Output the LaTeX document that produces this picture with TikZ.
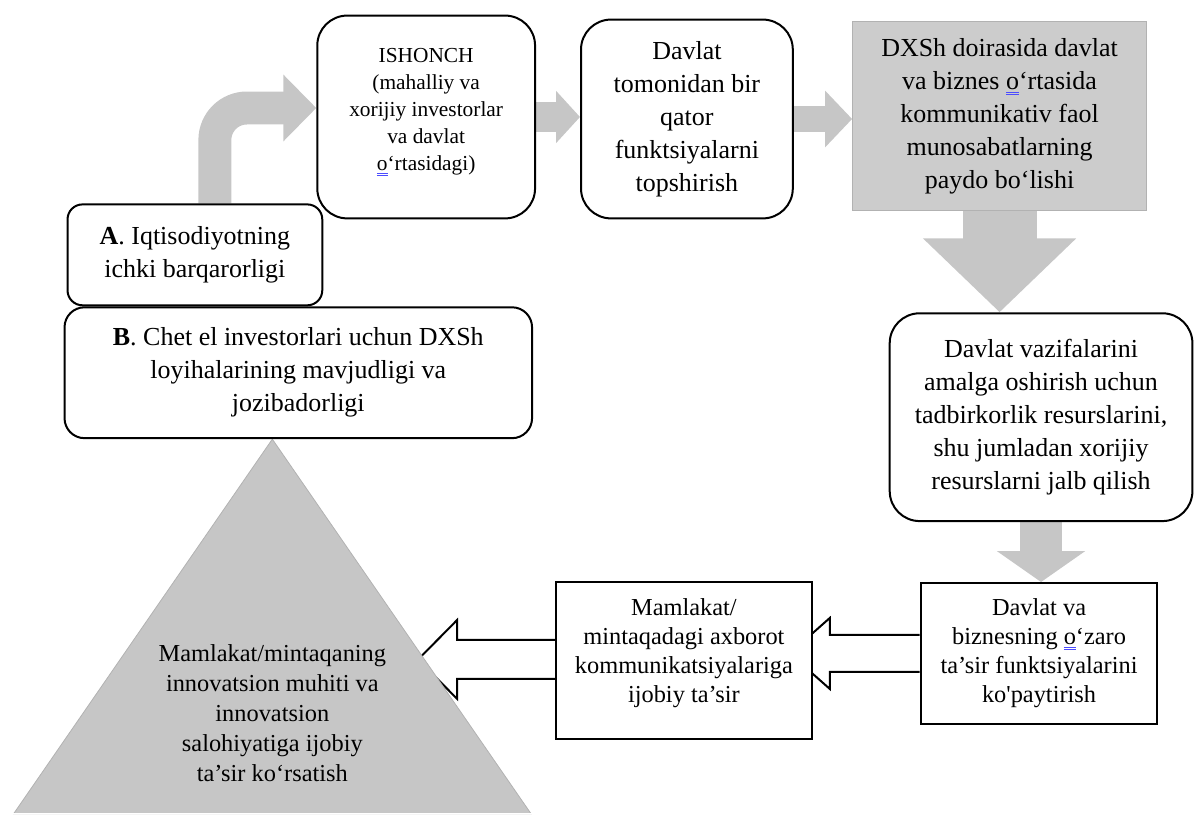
\documentclass[tikz,border=0pt]{standalone}
\usepackage{fontspec}
\setmainfont{Liberation Serif}
\usetikzlibrary{arrows.meta,positioning,calc,backgrounds}

\newcommand{\chk}[1]{\setbox0\hbox{#1}\rlap{\color{blue!70}\rule[-1.6pt]{\wd0}{0.35pt}\kern-\wd0\rule[-2.5pt]{\wd0}{0.35pt}}#1}

\begin{document}
\begin{tikzpicture}[x=0.5pt, y=-0.5pt, semithick, font=\fontsize{13}{16.5}\selectfont]
		
		% frame of the figure
		\draw[white] (0,0) rectangle (1195,814);
		
		\tikzstyle{box}=[draw=black,line width=1pt,fill=white,align=center,rounded corners=15pt,inner sep=2pt]
		\tikzstyle{sharp}=[draw=black,line width=1pt,fill=white,align=center,font=\fontsize{12.2}{14.5}\selectfont]
		\tikzstyle{flow}=[draw=gray!45,line width=15pt,-{Triangle[length=12pt,width=25.5pt]}]
		\tikzstyle{hollow}=[draw=black,line width=1pt,fill=white,line join=miter]
		
		% A and B
		\node[box, minimum width=127.5pt, minimum height=50.5pt, rounded corners=7.5pt] (A) at (194.5, 254.5) {\textbf{A}. Iqtisodiyotning\\ichki barqarorligi};
		\node[box, minimum width=234pt, minimum height=65.5pt, rounded corners=10pt]    (B) at (298, 372.5)   {\textbf{B}. Chet el investorlari uchun DXSh\\loyihalarining mavjudligi va\\jozibadorligi};
		
		% top row
		\node[box, minimum width=109pt, minimum height=101.5pt, font=\fontsize{10.7}{13.5}\selectfont] (ishonch) at (426, 116.5) {ISHONCH\\(mahalliy va\\xorijiy investorlar\\va davlat\\\chk{o}‘rtasidagi)\\[-6pt]\mbox{}};
		\node[box, minimum width=106pt, minimum height=99.5pt] (topshir) at (687, 118.5) {Davlat\\tomonidan bir\\qator\\funktsiyalarni\\topshirish};
		\node[draw=gray!60, fill=gray!40, align=center, minimum width=147pt, minimum height=94.5pt] (dxsh) at (1000, 115.5) {DXSh doirasida davlat\\va biznes \chk{o}‘rtasida\\kommunikativ faol\\munosabatlarning\\paydo bo‘lishi};
		
		% right column and bottom row
		\node[box, minimum width=151.5pt, minimum height=104pt] (vazifa) at (1041.5, 417) {Davlat vazifalarini\\amalga oshirish uchun\\tadbirkorlik resurslarini,\\shu jumladan xorijiy\\resurslarni jalb qilish};
		\node[sharp, minimum width=118.5pt, minimum height=70.5pt] (biznes)  at (1039.5, 653.5) {Davlat va\\biznesning \chk{o}‘zaro\\ta’sir funktsiyalarini\\ko\textquotesingle paytirish};
		\node[sharp, minimum width=128pt, minimum height=78.5pt]   (axborot) at (684, 660.5)    {Mamlakat/\\mintaqadagi axborot\\kommunikatsiyalariga\\ijobiy ta’sir\\[-5pt]\mbox{}};
		
		% the pyramid
		\node[font=\fontsize{12.2}{15}\selectfont, align=center] (innov) at (272, 713) {Mamlakat/mintaqaning\\innovatsion muhiti va\\innovatsion\\salohiyatiga ijobiy\\ta’sir ko‘rsatish};
		
		\coordinate (ptip) at ($(axborot.east |- biznes.west)+(-23,0)$);
		\coordinate (tri) at (418, 659.5);
		
		\begin{pgfonlayer}{background}
		\draw[flow, line width=16.5pt, rounded corners=16pt, -{Triangle[length=16.5pt,width=32.5pt]}] ($(A.north)+(20,0)$) |- ($(ishonch.west)+(0,-9)$);
		\draw[flow] (ishonch.east) -- (ishonch.east -| topshir.west);
		\draw[flow, line width=13.5pt, -{Triangle[length=13.5pt,width=27.5pt]}] (topshir.east) -- (topshir.east -| dxsh.west);
		\draw[flow, line width=37pt, -{Triangle[length=37pt,width=74.5pt]}] (dxsh.south) -- (dxsh.south |- vazifa.north);
		\draw[flow, line width=21pt, -{Triangle[length=15.5pt,width=43.5pt]}] (vazifa.south) -- (vazifa.south |- biznes.north);
		
		\draw[hollow] ($(biznes.west)+(0,-18.5)$) -| ($(ptip)+(40,-35.5)$) -- (ptip) -- ($(ptip)+(40,35.5)$) |- ($(biznes.west)+(0,18.5)$);
		\draw[hollow] ($(axborot.west)+(0,-20.5)$) -| ($(tri)+(39,-39.5)$) -- (tri) -- ($(tri)+(39,39.5)$) |- ($(axborot.west)+(0,18.5)$);
		
		\filldraw[draw=gray!60, fill=gray!45] (B.south -| innov) -- (13, 814) -- (531, 814) -- cycle;
		\end{pgfonlayer}
		
	\end{tikzpicture}
\end{document}
